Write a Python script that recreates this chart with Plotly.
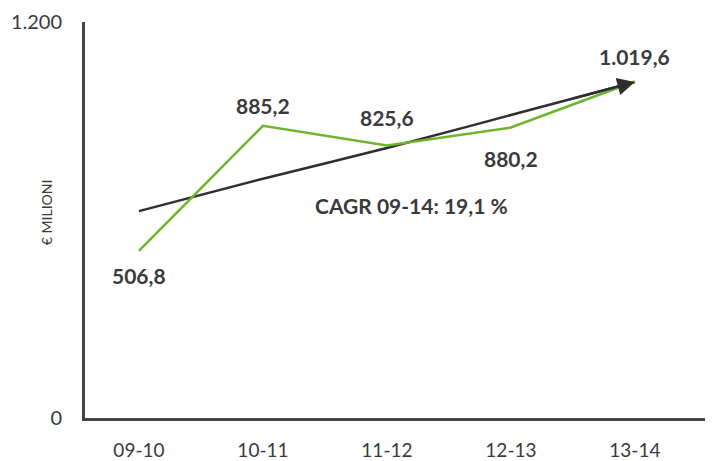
import plotly.graph_objects as go

# dati
periodi = ['09-10', '10-11', '11-12', '12-13', '13-14']
ricavi = [506.8, 885.2, 825.6, 880.2, 1019.6]
trend = [627, 725, 818, 918, 1018]
etichette = ['506,8', '885,2', '825,6', '880,2', '1.019,6']
cagr_testo = 'CAGR 09-14: 19,1 %'
y_ticks = [0, 1200]
y_ticktext = ['0', '1.200']

x = list(range(len(periodi)))
scuro = '#3a3a3a'
verde = '#6cb52d'

fig = go.Figure()

# linea di tendenza
fig.add_trace(go.Scatter(x=x, y=trend, mode='lines', line=dict(color='#2e2e2e', width=2.5, shape='spline'),
                         hoverinfo='skip'))
# ricavi
fig.add_trace(go.Scatter(x=x, y=ricavi, mode='lines', line=dict(color=verde, width=2.5)))

# freccia finale
fig.add_annotation(x=x[-1], y=trend[-1], ax=x[-1] - 0.5, ay=(trend[-1] + trend[-2]) / 2,
                   xref='x', yref='y', axref='x', ayref='y', text='', showarrow=True,
                   arrowhead=2, arrowsize=1.4, arrowwidth=2.5, arrowcolor='#2e2e2e')

# etichette valori
shift = [-25, 20, 28, -31, 25]
for i, lab in enumerate(etichette):
    fig.add_annotation(x=x[i], y=ricavi[i], text='<b>%s</b>' % lab, showarrow=False,
                       yshift=shift[i], font=dict(family='Lato', size=21, color=scuro))

fig.add_annotation(x=2.2, y=(418 - 205) / 0.33, text='<b>%s</b>' % cagr_testo, showarrow=False,
                   font=dict(family='Lato', size=21, color=scuro))

# titolo asse y
fig.add_annotation(x=-0.062, y=0.52, xref='paper', yref='paper', text='€ MILIONI', textangle=-90,
                   showarrow=False, xanchor='center', yanchor='middle',
                   font=dict(family='Lato', size=14, color=scuro))

# la pagina ha 8px di margine, quindi figura un po' più piccola
fig.update_layout(
    width=705, height=453,
    margin=dict(l=77, r=0, t=14, b=43),
    paper_bgcolor='white', plot_bgcolor='white',
    showlegend=False,
    font=dict(family='Lato', color=scuro),
)
fig.update_xaxes(range=[-0.435, 4.63], tickvals=x, ticktext=periodi, showgrid=False, zeroline=False,
                 showline=True, linecolor='#444444', linewidth=3, ticks='', automargin=False,
                 ticklabelstandoff=13, tickfont=dict(family='Lato', size=19, color=scuro))
fig.update_yaxes(range=[0, 1200], tickvals=y_ticks, ticktext=y_ticktext, showgrid=False, zeroline=False,
                 showline=True, linecolor='#444444', linewidth=3, ticks='', automargin=False,
                 ticklabelstandoff=16, tickfont=dict(family='Lato', size=20, color=scuro))

fig.write_html('out.html')
